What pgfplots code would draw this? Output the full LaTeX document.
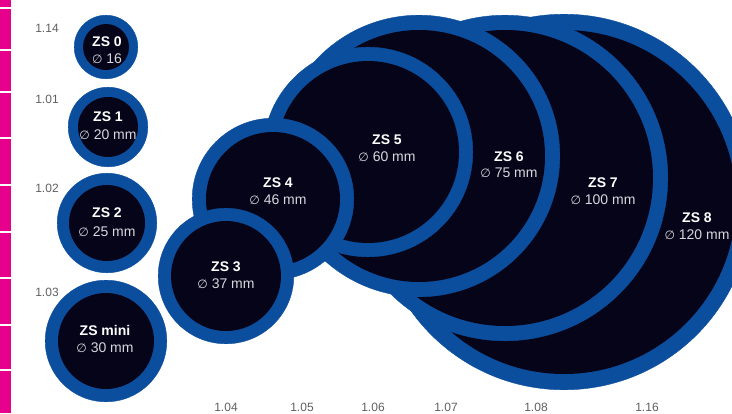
\documentclass[border=0pt]{standalone}
\usepackage{pgfplots}
\pgfplotsset{compat=1.18}
\usepackage{pgfplotstable}
\usepackage{fontspec}
\setmainfont{Liberation Sans}
\newfontfamily\djv{DejaVu Sans}
\definecolor{zsblue}{RGB}{12,78,158}
\definecolor{zsdark}{RGB}{6,4,24}
\definecolor{zspink}{RGB}{230,0,140}
\definecolor{zsgray}{RGB}{215,215,222}
\definecolor{ticktxt}{RGB}{95,95,95}
\newcommand{\labfont}{\fontsize{14}{15}\selectfont}
\newcommand{\dia}{{\djv\fontsize{12}{13}\selectfont ∅}}
\newcommand{\zs}[5]{%
  \node[text=white, font=\labfont\bfseries, inner sep=0pt] at (axis cs:#1,#2) {#4};
  \node[text=zsgray, font=\labfont, inner sep=0pt] at (axis cs:#1,#3) {\dia\ #5};}
\newcommand{\tk}[3]{\node[text=ticktxt, font=\fontsize{12}{13}\selectfont, inner sep=0pt] at (axis cs:#1,#2) {#3};}

% patches: centre x, centre y (pixel rows), outer radius r, ring width w
\pgfplotstableread{
x   y   r   w
564 202 188 16
505 178 163 15
419 156 141 15
368 152 105 14
273 199 81  14
226 276 68  13
106 47  32  9
108 127 40  10
107 223 50  12
106 341 61  13
}\patches

\begin{document}
\begin{tikzpicture}
\path[use as bounding box, clip] (0,0) rectangle (732pt,413pt);
\begin{axis}[
  at={(0,0)}, anchor=south west,
  scale only axis, width=732pt, height=413pt,
  xmin=0, xmax=732, ymin=0, ymax=413, y dir=reverse,
  hide axis, clip marker paths=true,
]
\addplot[fill=zspink, draw=none] coordinates {(0,0) (11,0) (11,413) (0,413)} -- cycle;
\addplot[xcomb, white, line width=1.2pt, mark=none] coordinates {(11,8)(11,50)(11,92)(11,138)(11,185)(11,232)(11,278)(11,325)(11,370)};
\addplot[scatter, only marks, mark=*,
  visualization depends on={\thisrow{r}-0.2 \as \ro},
  visualization depends on={\thisrow{r}-\thisrow{w} \as \ri},
  scatter/use mapped color={draw=zsblue, fill=zsblue},
  scatter/@pre marker code/.append style={/tikz/mark size=\ro pt},
  scatter/@post marker code/.prefix code={%
    \pgfsetfillcolor{zsdark}%
    \pgfpathcircle{\pgfpointorigin}{\ri pt}%
    \pgfusepath{fill}},
] table[x=x, y=y] {\patches};

\zs{107}{42}{59}{ZS 0}{16}
\zs{108}{117}{135}{ZS 1}{20 mm}
\zs{107}{213}{232}{ZS 2}{25 mm}
\zs{105}{330}{348}{ZS mini}{30 mm}
\zs{226}{267}{284}{ZS 3}{37 mm}
\zs{278}{183}{200}{ZS 4}{46 mm}
\zs{387}{140}{157}{ZS 5}{60 mm}
\zs{509}{157}{173}{ZS 6}{75 mm}
\zs{603}{183}{200}{ZS 7}{100 mm}
\zs{697}{218}{235}{ZS 8}{120 mm}

\tk{47}{28}{1.14}
\tk{47}{99}{1.01}
\tk{47}{188}{1.02}
\tk{47}{292}{1.03}
\tk{226}{407}{1.04}
\tk{302}{407}{1.05}
\tk{373}{407}{1.06}
\tk{446}{407}{1.07}
\tk{536}{407}{1.08}
\tk{647}{407}{1.16}
\end{axis}
\end{tikzpicture}
\end{document}
